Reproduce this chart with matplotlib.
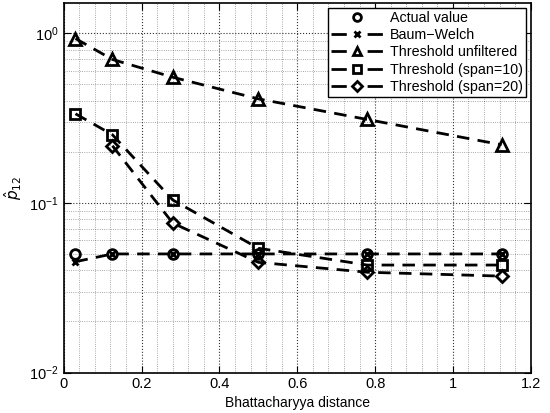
import matplotlib
matplotlib.use("Agg")
import matplotlib.pyplot as plt
import numpy as np
from matplotlib.ticker import MultipleLocator, LogLocator, NullFormatter
from matplotlib.legend_handler import HandlerLine2D
from matplotlib.lines import Line2D

plt.rcParams['font.family'] = ['Liberation Sans', 'DejaVu Sans']
plt.rcParams['mathtext.fontset'] = 'dejavusans'

x = [0.03, 0.125, 0.28, 0.5, 0.78, 1.125]
actual = [0.05, 0.05, 0.05, 0.05, 0.05, 0.05]
baum_welch = [0.045, 0.05, 0.05, 0.05, 0.05, 0.05]
thr_unfiltered = [0.93, 0.70, 0.55, 0.41, 0.31, 0.22]
thr_span10 = [0.335, 0.252, 0.104, 0.054, 0.043, 0.043]
thr_span20 = [np.nan, 0.217, 0.076, 0.0446, 0.039, 0.037]

fig = plt.figure(figsize=(5.5, 4.13), dpi=100)
ax = fig.add_axes([0.116, 0.098, 0.849, 0.894])

kw = dict(color='black', lw=2, mew=2, mfc='none', dashes=(4.5, 3))
ax.plot(x, actual, linestyle='none', marker='o', color='black', ms=7, mew=2, mfc='none', label='Actual value')
ax.plot(x, baum_welch, marker='x', linestyle='--', ms=5, label='Baum\u2212Welch', **kw)
ax.plot(x, thr_unfiltered, marker='^', linestyle='--', ms=8, label='Threshold unfiltered', **kw)
ax.plot(x, thr_span10, marker='s', linestyle='--', ms=6.5, label='Threshold (span=10)', **kw)
ax.plot(x, thr_span20, marker='D', linestyle='--', ms=6, label='Threshold (span=20)', **kw)

ax.set_yscale('log')
ax.set_xlim(0, 1.2)
ax.set_ylim(0.01, 1.5)
ax.set_xticks([0, 0.2, 0.4, 0.6, 0.8, 1.0, 1.2])
ax.set_xticklabels(['0', '0.2', '0.4', '0.6', '0.8', '1', '1.2'])
ax.xaxis.set_minor_locator(MultipleLocator(0.04))
ax.yaxis.set_minor_locator(LogLocator(base=10, subs=range(2, 10)))
ax.yaxis.set_minor_formatter(NullFormatter())

ax.grid(which='major', color='black', linestyle=':', linewidth=0.8, alpha=0.8)
ax.grid(which='minor', color='black', linestyle=':', linewidth=0.6, alpha=0.45)
ax.tick_params(which='both', direction='in', top=True, right=True, labelsize=10.5)
ax.tick_params(which='major', length=5, width=0.8)
ax.tick_params(which='minor', length=0)
for s in ax.spines.values():
    s.set_linewidth(1.2)

ax.set_xlabel('Bhattacharyya distance', fontsize=10, labelpad=3)
ax.set_ylabel(r'$\hat{p}_{12}$', fontsize=11)


def _leg_update(legline, orig):
    legline.update_from(orig)
    if orig.get_linestyle() not in ('None', 'none', ''):
        legline.set_dashes((5.5, 7.5))


handler = HandlerLine2D(update_func=_leg_update)
leg = ax.legend(loc='upper right', fontsize=10.3, frameon=True, fancybox=False,
                edgecolor='black', framealpha=1, borderaxespad=0.3,
                handlelength=3.6, labelspacing=0.22, borderpad=0.25, handletextpad=0.5,
                markerscale=0.8, handler_map={Line2D: handler})
leg.get_frame().set_linewidth(1.0)

fig.savefig('out.png', dpi=100)
